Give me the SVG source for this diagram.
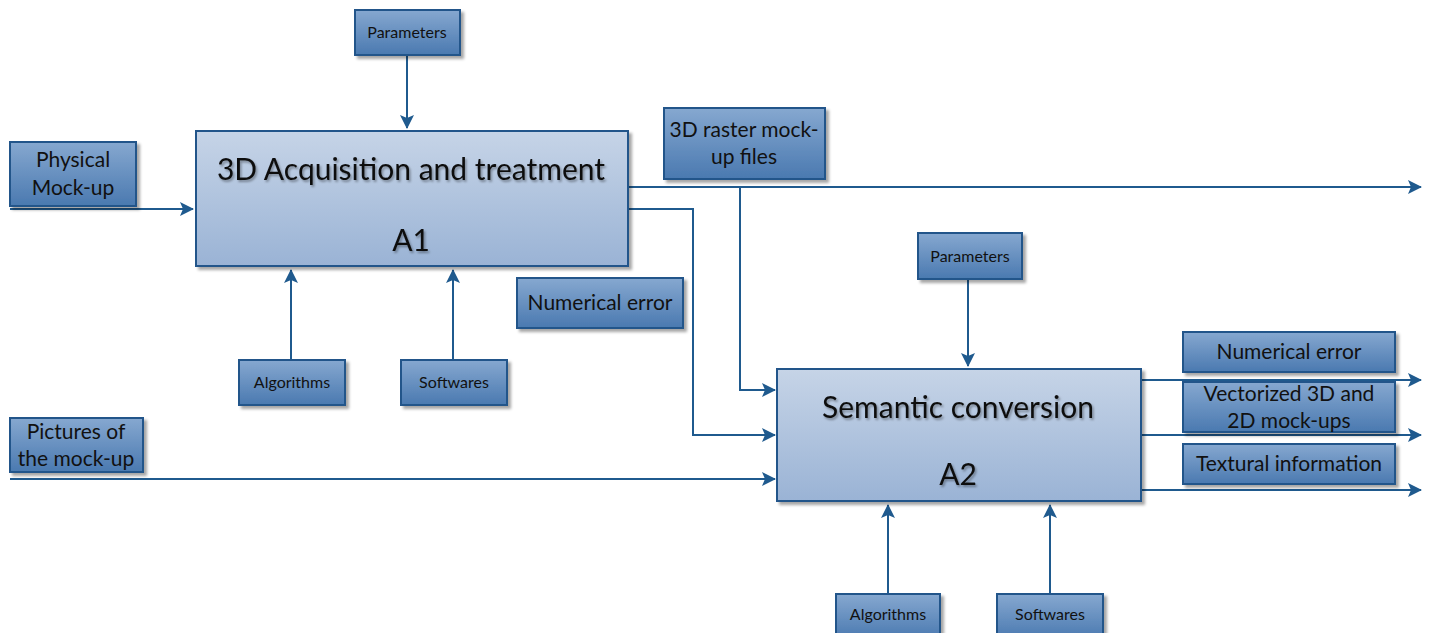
<svg xmlns="http://www.w3.org/2000/svg" width="1429" height="633" viewBox="0 0 1429 633">
<defs>
<linearGradient id="gs" x1="0" y1="0" x2="0" y2="1">
<stop offset="0" stop-color="#86a8d0"/>
<stop offset="1" stop-color="#4a79b0"/>
</linearGradient>
<linearGradient id="gb" x1="0" y1="0" x2="0" y2="1">
<stop offset="0" stop-color="#c6d4e7"/>
<stop offset="1" stop-color="#9ab3d5"/>
</linearGradient>
<filter id="sh" x="-10%" y="-10%" width="130%" height="130%">
<feDropShadow dx="3" dy="3" stdDeviation="1.5" flood-color="#000" flood-opacity="0.35"/>
</filter>
<filter id="ts" x="-5%" y="-20%" width="110%" height="150%">
<feDropShadow dx="1.5" dy="2" stdDeviation="1" flood-color="#000" flood-opacity="0.35"/>
</filter>
<marker id="ar" markerWidth="14" markerHeight="14" refX="13" refY="7" orient="auto" markerUnits="userSpaceOnUse">
<path d="M0,0 L14,7 L0,14 L3,7 Z" fill="#1f5a8e"/>
</marker>
</defs>
<style>
.s{fill:url(#gs);stroke:#22558a;stroke-width:2;filter:url(#sh)}
.b{fill:url(#gb);stroke:#22558a;stroke-width:2;filter:url(#sh)}
.t{font-family:Lato,"Liberation Sans",sans-serif;fill:#111;text-anchor:middle}
.sm{font-size:16px}
.md{font-size:21px}
.lg{font-size:30px;filter:url(#ts)}
.c{fill:none;stroke:#1f5a8e;stroke-width:2}
</style>
<g id="connectors">
<path class="c" d="M407,56 V128" marker-end="url(#ar)"/>
<path class="c" d="M10,209 H193" marker-end="url(#ar)"/>
<path class="c" d="M291,360 V270" marker-end="url(#ar)"/>
<path class="c" d="M453,360 V270" marker-end="url(#ar)"/>
<path class="c" d="M628,187 H1421" marker-end="url(#ar)"/>
<path class="c" d="M628,209 H693 V435 H775" marker-end="url(#ar)"/>
<path class="c" d="M740,187 V390 H775" marker-end="url(#ar)"/>
<path class="c" d="M968,280 V366" marker-end="url(#ar)"/>
<path class="c" d="M10,479 H775" marker-end="url(#ar)"/>
<path class="c" d="M1141,380 H1421" marker-end="url(#ar)"/>
<path class="c" d="M1141,435 H1421" marker-end="url(#ar)"/>
<path class="c" d="M1141,490 H1421" marker-end="url(#ar)"/>
<path class="c" d="M888,594 V505" marker-end="url(#ar)"/>
<path class="c" d="M1050,594 V505" marker-end="url(#ar)"/>
</g>
<g id="params1"><rect class="s" x="355" y="10" width="105" height="45"/><text class="t sm" x="407" y="38">Parameters</text></g>
<g id="a1"><rect class="b" x="196" y="131" width="432" height="135"/><text class="t lg" x="411" y="180">3D Acquisition and treatment</text><text class="t lg" x="411" y="251">A1</text></g>
<g id="physical"><rect class="s" x="10" y="142" width="126" height="64"/><text class="t md" x="73" y="167">Physical</text><text class="t md" x="73" y="195">Mock-up</text></g>
<g id="algo1"><rect class="s" x="239" y="360" width="106" height="45"/><text class="t sm" x="292" y="388">Algorithms</text></g>
<g id="soft1"><rect class="s" x="401" y="360" width="106" height="45"/><text class="t sm" x="454" y="388">Softwares</text></g>
<g id="numerr1"><rect class="s" x="517" y="278" width="166" height="50"/><text class="t md" x="600" y="310">Numerical error</text></g>
<g id="raster"><rect class="s" x="664" y="108" width="161" height="71"/><text class="t md" x="744" y="137">3D raster mock-</text><text class="t md" x="744" y="164">up files</text></g>
<g id="params2"><rect class="s" x="918" y="233" width="104" height="46"/><text class="t sm" x="970" y="262">Parameters</text></g>
<g id="a2"><rect class="b" x="777" y="369" width="364" height="132"/><text class="t lg" x="958" y="418">Semantic conversion</text><text class="t lg" x="958" y="485">A2</text></g>
<g id="pictures"><rect class="s" x="10" y="418" width="133" height="54"/><text class="t md" x="76" y="439">Pictures of</text><text class="t md" x="76" y="466">the mock-up</text></g>
<g id="numerr2"><rect class="s" x="1183" y="332" width="212" height="40"/><text class="t md" x="1289" y="359">Numerical error</text></g>
<g id="vector"><rect class="s" x="1183" y="382" width="212" height="50"/><text class="t md" x="1289" y="401">Vectorized 3D and</text><text class="t md" x="1289" y="428">2D mock-ups</text></g>
<g id="textural"><rect class="s" x="1183" y="444" width="212" height="40"/><text class="t md" x="1289" y="471">Textural information</text></g>
<g id="algo2"><rect class="s" x="836" y="594" width="104" height="45"/><text class="t sm" x="888" y="620">Algorithms</text></g>
<g id="soft2"><rect class="s" x="997" y="594" width="106" height="45"/><text class="t sm" x="1050" y="620">Softwares</text></g>
</svg>
